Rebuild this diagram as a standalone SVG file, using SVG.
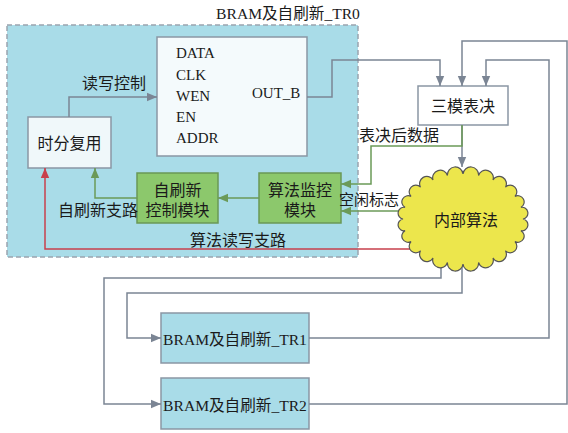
<svg xmlns="http://www.w3.org/2000/svg" width="568" height="433" viewBox="0 0 568 433">
<defs>
<style>
.t{font-family:"Liberation Serif","Noto Sans CJK SC",serif;fill:#1a1a1a}
.l15{font-size:15px}
.b{font-size:15.6px}
.c16{font-size:16px}
.g{fill:none;stroke:#7b8594;stroke-width:1.5}
.gr{fill:none;stroke:#6b9a58;stroke-width:1.5}
.rd{fill:none;stroke:#c8404c;stroke-width:1.5}
.box{stroke:#8a96a4;stroke-width:1.5}
.green{fill:#8cc86c;stroke:#6a9856;stroke-width:1.5}
</style>
<marker id="ag" markerUnits="userSpaceOnUse" markerWidth="10" markerHeight="10" viewBox="0 0 10 10" refX="10" refY="5" orient="auto"><path d="M0,0.8 L10,5 L0,9.2 z" fill="#7b8594"/></marker>
<marker id="agr" markerUnits="userSpaceOnUse" markerWidth="10" markerHeight="10" viewBox="0 0 10 10" refX="10" refY="5" orient="auto"><path d="M0,0.8 L10,5 L0,9.2 z" fill="#6b9a58"/></marker>
<marker id="ard" markerUnits="userSpaceOnUse" markerWidth="10" markerHeight="10" viewBox="0 0 10 10" refX="10" refY="5" orient="auto"><path d="M0,0.8 L10,5 L0,9.2 z" fill="#c8404c"/></marker>
</defs>
<rect width="568" height="433" fill="#ffffff"/>

<g id="tr0">
<rect x="7" y="25" width="351" height="232" fill="#a9dce8" stroke="#9aa4ae" stroke-width="1.5" stroke-dasharray="5,3"/>
<text class="t b" x="288" y="19" text-anchor="middle">BRAM及自刷新_TR0</text>
</g>

<g id="bram">
<rect class="box" x="157" y="37" width="150" height="119" fill="#f4fafc"/>
<text class="t l15" x="176" y="58">DATA</text>
<text class="t l15" x="176" y="80">CLK</text>
<text class="t l15" x="176" y="101">WEN</text>
<text class="t l15" x="176" y="122">EN</text>
<text class="t l15" x="176" y="143">ADDR</text>
<text class="t l15" x="252" y="98">OUT_B</text>
</g>

<g id="tdm">
<rect class="box" x="28" y="117" width="83" height="51" fill="#f0f8fa"/>
<text class="t c16" x="69.5" y="149" text-anchor="middle">时分复用</text>
</g>

<g id="refresh">
<rect class="green" x="137" y="173" width="81" height="50"/>
<text class="t c16" x="177.5" y="196" text-anchor="middle">自刷新</text>
<text class="t c16" x="177.5" y="216" text-anchor="middle">控制模块</text>
</g>

<g id="monitor">
<rect class="green" x="259" y="173" width="82" height="50"/>
<text class="t c16" x="300" y="196" text-anchor="middle">算法监控</text>
<text class="t c16" x="300" y="216" text-anchor="middle">模块</text>
</g>

<g id="voter">
<rect class="box" x="418" y="86" width="90" height="39" fill="#ffffff"/>
<text class="t c16" x="463" y="112" text-anchor="middle">三模表决</text>
</g>

<g id="tr1">
<rect class="box" x="161" y="313" width="148" height="50" fill="#a9dce8"/>
<text class="t b" x="235" y="345" text-anchor="middle">BRAM及自刷新_TR1</text>
</g>

<g id="tr2">
<rect class="box" x="161" y="378" width="148" height="51" fill="#a9dce8"/>
<text class="t b" x="235" y="411" text-anchor="middle">BRAM及自刷新_TR2</text>
</g>

<g id="connectors">
<polyline class="g" points="69,117 69,97 157,97" marker-end="url(#ag)"/>
<polyline class="g" points="307,97 332,97 332,60 440,60 440,86" marker-end="url(#ag)"/>
<polyline class="g" points="309,404 567,404 567,41 462,41 462,86" marker-end="url(#ag)"/>
<polyline class="g" points="309,338 549,338 549,60 486,60 486,86" marker-end="url(#ag)"/>
<polyline class="g" points="462,125 462,167" marker-end="url(#ag)"/>
<polyline class="g" points="462,266 462,293 127,293 127,338 161,338" marker-end="url(#ag)"/>
<polyline class="g" points="441,264 441,278 104,278 104,404 161,404" marker-end="url(#ag)"/>
<polyline class="gr" points="462,125 462,146 371,146 371,184 341,184" marker-end="url(#agr)"/>
<polyline class="gr" points="400,211 341,211" marker-end="url(#agr)"/>
<polyline class="gr" points="259,198 218,198" marker-end="url(#agr)"/>
<polyline class="gr" points="137,198 95,198 95,168" marker-end="url(#agr)"/>
<polyline class="rd" points="410,249 45,249 45,168" marker-end="url(#ard)"/>
<text class="t c16" x="82" y="89">读写控制</text>
<text class="t c16" x="359" y="141">表决后数据</text>
<text class="t l15" x="339" y="205">空闲标志</text>
<text class="t c16" x="58" y="216">自刷新支路</text>
<text class="t c16" x="190" y="246">算法读写支路</text>
</g>

<g id="algo">
<path d="M523,219 A1,1 0 0 1 520.95,230.65 A1,1 0 0 1 514.96,241.5 A1,1 0 0 1 505.43,250.82 A1,1 0 0 1 493,257.97 A1,1 0 0 1 478.53,262.47 A1,1 0 0 1 463,264 A1,1 0 0 1 447.47,262.47 A1,1 0 0 1 433,257.97 A1,1 0 0 1 420.57,250.82 A1,1 0 0 1 411.04,241.5 A1,1 0 0 1 405.05,230.65 A1,1 0 0 1 403,219 A1,1 0 0 1 405.05,207.35 A1,1 0 0 1 411.04,196.5 A1,1 0 0 1 420.57,187.18 A1,1 0 0 1 433,180.03 A1,1 0 0 1 447.47,175.53 A1,1 0 0 1 463,174 A1,1 0 0 1 478.53,175.53 A1,1 0 0 1 493,180.03 A1,1 0 0 1 505.43,187.18 A1,1 0 0 1 514.96,196.5 A1,1 0 0 1 520.95,207.35 A1,1 0 0 1 523,219 Z" fill="#ece64c" stroke="#555555" stroke-width="1.2"/>
<text class="t c16" x="466" y="226" text-anchor="middle">内部算法</text>
</g>
</svg>
